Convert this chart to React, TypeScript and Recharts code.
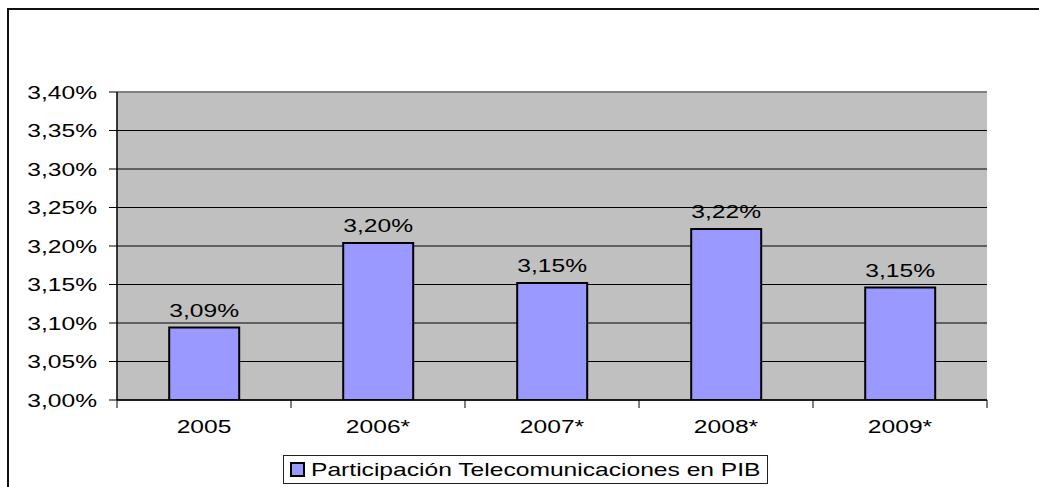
import React from "react";
import {
  BarChart,
  Bar,
  XAxis,
  YAxis,
  CartesianGrid,
  LabelList,
} from "recharts";

const years = ["2005", "2006*", "2007*", "2008*", "2009*"];
const shares = [3.094, 3.204, 3.152, 3.222, 3.146];
const yTicks = [3.0, 3.05, 3.1, 3.15, 3.2, 3.25, 3.3, 3.35, 3.4];
const seriesName = "Participación Telecomunicaciones en PIB";

const data = years.map((year, i) => ({ year, value: shares[i] }));

const FONT = "'Liberation Sans', Arial, sans-serif";
const STRETCH = 1.33;

const pct = (v: number) => v.toFixed(2).replace(".", ",") + "%";

function YTick(props: any) {
  const { x, y, payload } = props;
  return (
    <text
      transform={`translate(${x},${y + 6.5}) scale(${STRETCH},1)`}
      textAnchor="end"
      fontFamily={FONT}
      fontSize={18.5}
      fill="#000"
    >
      {pct(payload.value)}
    </text>
  );
}

// category label plus Excel-style tick marks at the category boundaries
function XTick(props: any) {
  const { x, y, payload, index, visibleTicksCount } = props;
  const half = payload.offset || 0;
  const axisY = y - 8;
  const last = index === visibleTicksCount - 1;
  return (
    <g>
      <line x1={x - half} x2={x - half} y1={axisY} y2={axisY + 8} stroke="#000" />
      {last && (
        <line x1={x + half} x2={x + half} y1={axisY} y2={axisY + 8} stroke="#000" />
      )}
      <text
        transform={`translate(${x},${y + 25}) scale(${STRETCH},1)`}
        textAnchor="middle"
        fontFamily={FONT}
        fontSize={18.5}
        fill="#000"
      >
        {payload.value}
      </text>
    </g>
  );
}

// top line of the plot frame is grey, the others black
function GridLine(props: any) {
  const { x1, x2, y1, y2, y } = props;
  const isTop = Math.abs(y1 - y) < 0.5;
  return (
    <line
      x1={x1}
      x2={x2}
      y1={y1}
      y2={y2}
      stroke={isTop ? "#808080" : "#000"}
      strokeWidth={isTop ? 2 : 1}
    />
  );
}

function BarValue(props: any) {
  const { x, y, width, value } = props;
  return (
    <text
      transform={`translate(${x + width / 2},${y - 11}) scale(${STRETCH},1)`}
      textAnchor="middle"
      fontFamily={FONT}
      fontSize={18.5}
      fill="#000"
    >
      {pct(value)}
    </text>
  );
}

export default function App() {
  return (
    <div style={{ position: "relative", width: 1039, height: 487, overflow: "hidden", background: "#fff" }}>
      <style>{`body{margin:0}`}</style>
      <div
        style={{
          position: "absolute",
          left: 7,
          top: 8,
          width: 1100,
          height: 600,
          borderTop: "2px solid #111",
          borderLeft: "2px solid #111",
        }}
      />
      <div style={{ position: "absolute", left: 0, top: 0 }}>
        <BarChart
          width={1039}
          height={487}
          data={data}
          margin={{ top: 92, right: 52, bottom: 47, left: 37 }}
          barCategoryGap="30%"
        >
          <CartesianGrid
            vertical={false}
            horizontal={(p: any) => <GridLine key={p.key} {...p} />}
            stroke="#000"
            fill="#c0c0c0"
            fillOpacity={1}
          />
          <XAxis
            dataKey="year"
            height={40}
            tickLine={false}
            axisLine={{ stroke: "#000", strokeWidth: 1.5 }}
            tick={<XTick />}
            interval={0}
          />
          <YAxis
            domain={[3.0, 3.4]}
            ticks={yTicks}
            width={80}
            tickSize={8}
            tickMargin={12}
            interval={0}
            tickLine={{ stroke: "#000" }}
            axisLine={{ stroke: "#000", strokeWidth: 1.5 }}
            tick={<YTick />}
            allowDataOverflow
          />
          <YAxis
            yAxisId="frame"
            orientation="right"
            domain={[3.0, 3.4]}
            width={0}
            tick={false}
            tickLine={false}
            axisLine={{ stroke: "#808080", strokeWidth: 2 }}
          />
          <Bar
            dataKey="value"
            name={seriesName}
            fill="#9999ff"
            stroke="#000"
            strokeWidth={2}
            isAnimationActive={false}
          >
            <LabelList dataKey="value" content={<BarValue />} />
          </Bar>
        </BarChart>
      </div>
      <div
        style={{
          position: "absolute",
          left: 283,
          top: 455,
          width: 483,
          height: 27,
          border: "1px solid #222",
          background: "#fff",
          display: "flex",
          alignItems: "center",
          fontFamily: FONT,
          fontSize: 18.5,
          color: "#000",
        }}
      >
        <div
          style={{
            marginLeft: 6,
            width: 11,
            height: 11,
            border: "2px solid #000",
            background: "#9999ff",
          }}
        />
        <span
          style={{
            marginLeft: 6,
            display: "inline-block",
            transform: `scaleX(${STRETCH})`,
            transformOrigin: "left center",
            whiteSpace: "nowrap",
          }}
        >
          {seriesName}
        </span>
      </div>
    </div>
  );
}
